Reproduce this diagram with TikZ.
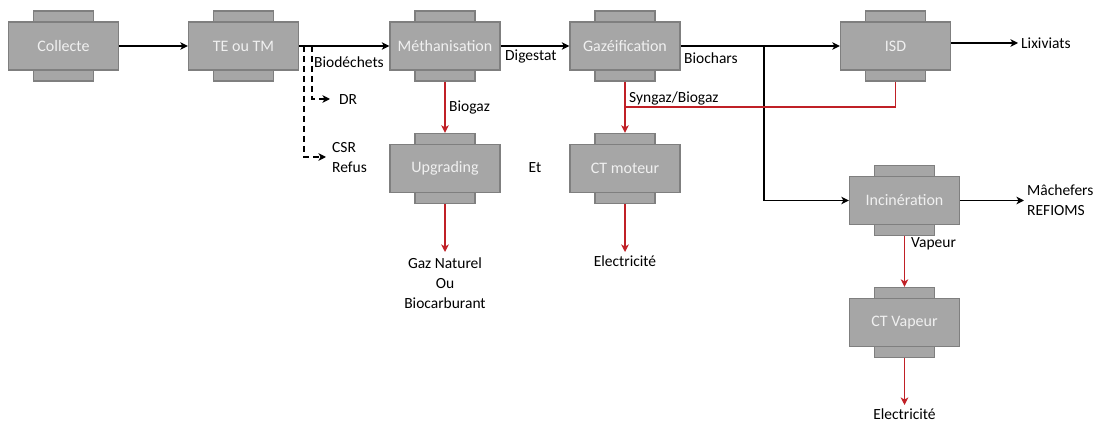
\documentclass[tikz,border=0pt]{standalone}
\usepackage{fontspec}
\setmainfont{Carlito}
\usetikzlibrary{arrows.meta}
\definecolor{boxfill}{RGB}{166,166,166}
\definecolor{boxline}{RGB}{127,127,127}
\definecolor{boxtext}{RGB}{240,240,240}
\definecolor{flowred}{RGB}{192,32,38}
\tikzset{
  mainbox/.style={draw=boxline, fill=boxfill, line width=1.3pt, minimum width=110pt, minimum height=48pt, inner sep=0pt, text=boxtext, font=\fontsize{16}{18}\selectfont},
  tabbox/.style={draw=boxline, fill=boxfill, line width=1.3pt},
  flow/.style={line width=1.6pt, -{Stealth[length=7.5pt,width=7.5pt,inset=2pt]}},
  redflow/.style={flow, draw=flowred},
  redline/.style={line width=1.6pt, draw=flowred},
  dashflow/.style={flow, dash pattern=on 6pt off 4pt},
  lbl/.style={inner sep=0pt, font=\fontsize{15.5}{20}\selectfont, text=black}
}
\newcommand\procbox[3]{%
  \begin{scope}[shift={(#2)}]
    \draw[tabbox] (-30,-35) rectangle (30,35);
  \end{scope}
  \node[mainbox] (#1) at (#2) {#3};
  \coordinate (#1t) at ([yshift=11pt]#1.north);
  \coordinate (#1b) at ([yshift=-11pt]#1.south);
}
\begin{document}
\begin{tikzpicture}[x=1pt,y=-1pt]
\useasboundingbox (0,0) rectangle (1101,425);
\procbox{col}{63.5,46}{Collecte}
\procbox{te}{243.5,46}{TE ou TM}
\procbox{meth}{445,46}{Méthanisation}
\procbox{gaz}{625,46}{Gazéification}
\procbox{isd}{895.5,46}{ISD}
\procbox{upg}{445,168.5}{Upgrading}
\procbox{ctm}{625,168.5}{CT moteur}
\procbox{inc}{904.5,200.5}{Incinération}
\procbox{ctv}{904.5,322.5}{CT Vapeur}

% labels
\node[lbl, anchor=west] (lbio) at (314,62) {Biodéchets};
\node[lbl, anchor=west] (ldig) at (505,57) {Digestat};
\node[lbl, anchor=west] (lbch) at (684,58) {Biochars};
\node[lbl, anchor=west] (lsyn) at (629,98) {Syngaz/Biogaz};
\node[lbl, anchor=west] (lbg) at (449,108) {Biogaz};
\node[lbl, anchor=west] (lvap) at (911,244) {Vapeur};
\node[lbl] (let) at (535,168) {Et};
\node[lbl, anchor=west] (ldr) at (339,100) {DR};
\node[lbl, anchor=west, align=left] (lcsr) at (332,158) {CSR\\Refus};
\node[lbl, anchor=west] (llix) at (1021,43) {Lixiviats};
\node[lbl, anchor=west, align=left] (lmach) at (1027,200) {Mâchefers\\REFIOMS};
\node[lbl, anchor=north, align=center] (lgn) at (445,258) {Gaz Naturel\\Ou\\Biocarburant};
\node[lbl, anchor=north] (lel1) at (625,256) {Electricité};
\node[lbl, anchor=north] (lel2) at (904.5,409) {Electricité};

% coordinates
\coordinate (dA) at (304,46);
\coordinate (dB) at (312,46);
\coordinate (dAe) at (326,157);
\coordinate (dBe) at (330,99);
\coordinate (br) at (764,46);
\coordinate (rj) at (625,107);

% black flows
\draw[flow] (col) -- (te);
\draw[flow] (te) -- (meth);
\draw[flow] (meth) -- (gaz);
\draw[flow] (gaz) -- (isd);
\draw[flow] (br) |- (inc);
\draw[flow] (isd.east |- llix.west) -- ([xshift=-3pt]llix.west);
\draw[flow] (inc.east) -- ([xshift=-3pt]inc.east -| lmach.west);
\draw[dashflow] (dA) |- (dAe);
\draw[dashflow] (dB) |- (dBe);

% red flows
\draw[redflow] (methb) -- (upgt);
\draw[redflow] (gazb) -- (ctmt);
\draw[redline] (isdb) |- (rj);
\draw[redflow] (upgb) -- ([yshift=6pt]upgb |- lgn.north);
\draw[redflow] (ctmb) -- ([yshift=4pt]ctmb |- lel1.north);
\draw[redflow] (incb) -- (ctvt);
\draw[redflow] (ctvb) -- ([yshift=4pt]ctvb |- lel2.north);
\end{tikzpicture}
\end{document}
